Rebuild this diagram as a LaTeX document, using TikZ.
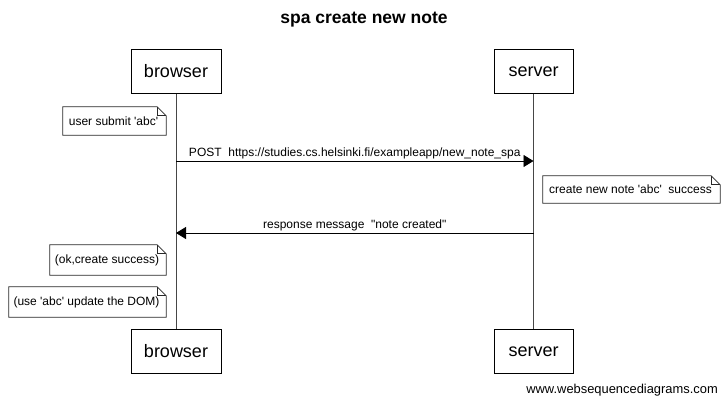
\documentclass[tikz,border=0pt]{standalone}
\usepackage{fontspec}
\setmainfont{Liberation Sans}
\usetikzlibrary{arrows.meta}
\newcommand\sq{\textquotesingle}
\newcommand\dq{\textquotedbl}
\tikzset{
  x=1pt, y=-1pt,
  actor/.style={draw=black, line width=0.9pt, minimum height=44pt, inner sep=0pt, font=\fontsize{18}{20}\selectfont},
  lifeline/.style={draw={rgb,255:red,70;green,70;blue,70}, line width=0.9pt},
  msg/.style={draw=black, line width=0.9pt, -{Triangle[length=10pt,width=12pt]}},
  msglabel/.style={font=\fontsize{12}{14}\selectfont, inner sep=2pt},
  notetext/.style={font=\fontsize{12}{14}\selectfont, inner sep=0pt},
  notebox/.style={draw={rgb,255:red,40;green,40;blue,40}, line width=0.7pt, fill=white},
}
% #1 name, #2 x1, #3 y1, #4 x2, #5 y2, #6 text
\newcommand\wsdnote[6]{%
  \node[inner sep=0pt, minimum width={#4-#2}, minimum height={#5-#3}] (#1) at ({(#2+#4)/2},{(#3+#5)/2}) {};
  \draw[notebox] (#1.north west) -- ([xshift=-9pt]#1.north east) -- ([yshift=-9pt]#1.north east) -- (#1.south east) -- (#1.south west) -- cycle;
  \draw[notebox, fill=none] ([xshift=-9pt]#1.north east) |- ([yshift=-9pt]#1.north east);
  \node[notetext] (#1t) at ([xshift=-1pt]#1.center) {#6};
}
\begin{document}
\begin{tikzpicture}
\useasboundingbox[fill=white] (0,0) rectangle (727,404);
\node[font=\bfseries\fontsize{17.5}{20}\selectfont] (title) at (364,20) {spa create new note};

\node[actor, minimum width=90pt] (bt) at (176,71.5) {browser};
\node[actor, minimum width=90pt] (bb) at (176,351.5) {browser};
\node[actor, minimum width=79pt] (st) at (533.5,71.5) {server};
\node[actor, minimum width=79pt] (sb) at (533.5,351.5) {server};

\draw[lifeline] (bt.south) -- (bb.north);
\draw[lifeline] (st.south) -- (sb.north);

\wsdnote{n1}{63}{107}{166}{135}{user submit \sq abc\sq}

\coordinate (a1) at (176,161);
\coordinate (a2) at (533.5,161);
\draw[msg] (a1) -- (a2) node[midway, above, msglabel] {POST\ \ https://studies.cs.helsinki.fi/exampleapp/new\_note\_spa};

\wsdnote{n2}{543}{176}{720}{203}{create new note \sq abc\sq\ \ success}

\coordinate (b1) at (533.5,233);
\coordinate (b2) at (176,233);
\draw[msg] (b1) -- (b2) node[midway, above, msglabel] {response message\ \ \dq note created\dq};

\wsdnote{n3}{50}{245}{166}{275}{(ok,create success)}
\wsdnote{n4}{9}{287}{166}{317}{(use \sq abc\sq\ update the DOM)}

\node[anchor=east, font=\fontsize{12.9}{15}\selectfont, inner sep=0pt] (wm) at (718,390) {www.websequencediagrams.com};
\end{tikzpicture}
\end{document}
